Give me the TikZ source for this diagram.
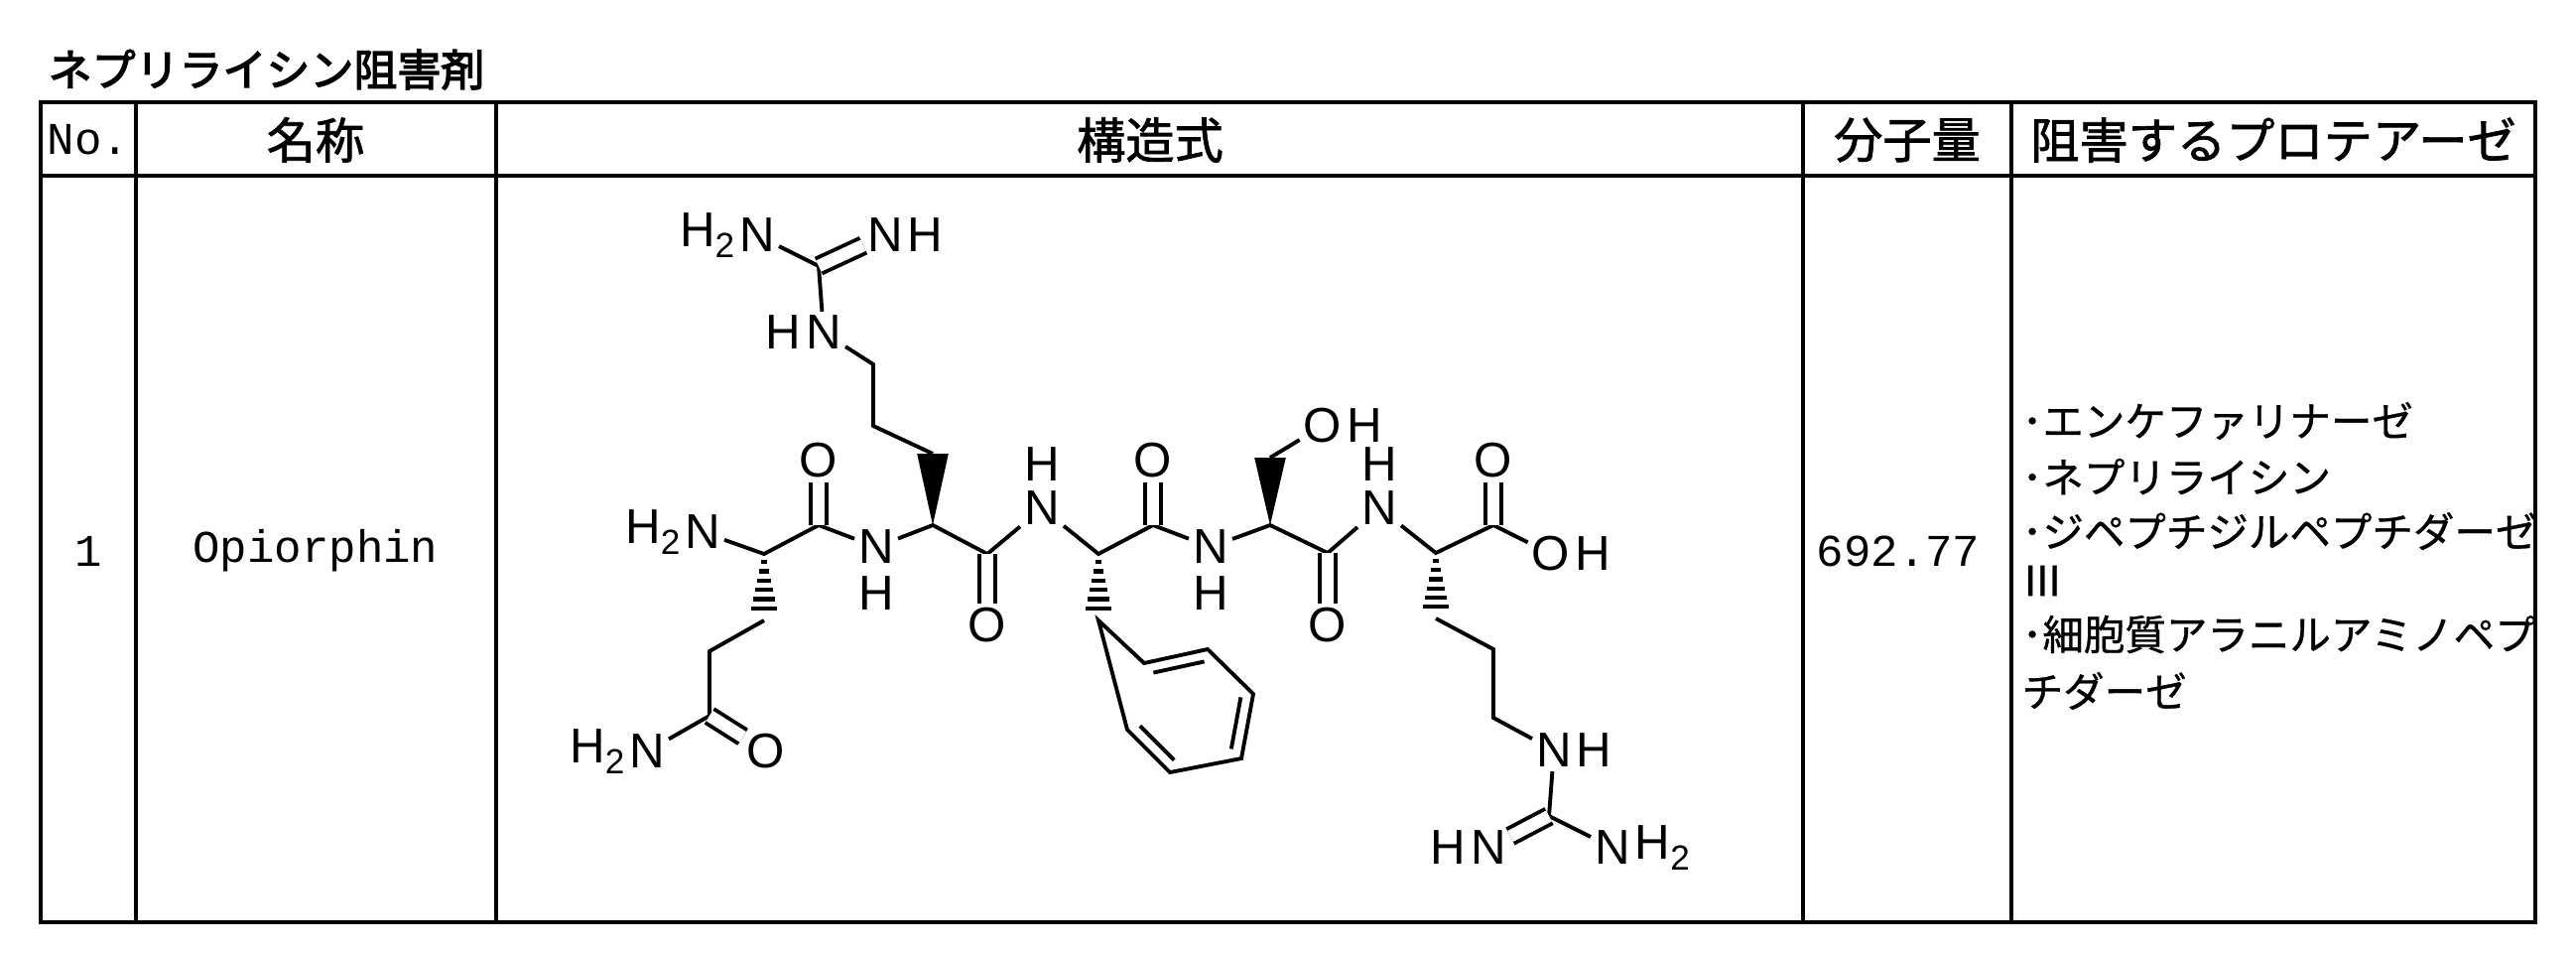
\documentclass[tikz,border=0pt]{standalone}
\usepackage{fontspec}
\setmainfont{Liberation Sans}
\newfontfamily\jp[FakeBold=0.8]{Noto Sans CJK JP}
\newfontfamily\jpb[FakeBold=3]{Noto Sans CJK JP}
\newfontfamily\jph[FakeBold=1.5]{Noto Sans CJK JP}
\newfontfamily\mono{Liberation Mono}
\usetikzlibrary{calc}
\newcommand\wedgebond[2]{\fill (#1) -- ($(#2)!4.5pt!90:(#1)$) -- ($(#2)!4.5pt!-90:(#1)$) -- cycle;}
\newcommand\hashbond[2]{\foreach \t in {0.12,0.26,...,0.95}{\pgfmathsetmacro\w{0.5+\t*4}\path (#1) -- (#2) coordinate[pos=\t] (hh); \draw[line width=1.2pt] ($(hh)!\w pt!90:(#2)$) -- ($(hh)!\w pt!-90:(#2)$);}}
\newcommand\two{\raisebox{-3pt}{\fontsize{10}{10}\selectfont 2}}
\begin{document}
\begin{tikzpicture}[x=0.01cm,y=-0.01cm,
  grid/.style={line width=1.3pt},
  bd/.style={line width=1.1pt},
  dbl/.style={line width=1.1pt,double distance=3.5pt},
  atom/.style={font=\fontsize{14}{14}\selectfont, inner sep=1pt},
  sub/.style={font=\fontsize{14}{14}\selectfont, inner sep=0pt},
  hdr/.style={font=\jph\fontsize{14}{14}\selectfont},
  mtxt/.style={font=\mono\fontsize{13}{13}\selectfont},
  lst/.style={font=\jp\fontsize{11.8}{11.8}\selectfont, anchor=west, inner sep=0pt}]
\useasboundingbox (0,0) rectangle (2596,959);
% title
\node[font=\jpb\fontsize{12.5}{12.5}\selectfont, anchor=west, inner sep=0pt] (title) at (48,70) {ネプリライシン阻害剤};
% table
\draw[grid] (41,103) rectangle (2555,929);
\draw[grid] (41,177) -- (2555,177);
\foreach \x in {137,500,1817,2027} \draw[grid] (\x,103) -- (\x,929);
\node[mtxt] (hno) at (89,141) {No.};
\node[hdr] (hname) at (318,141) {名称};
\node[hdr] (hstr) at (1159,141) {構造式};
\node[hdr] (hmw) at (1922,141) {分子量};
\node[hdr] (hprot) at (2291,141) {阻害するプロテアーゼ};
\node[mtxt] (rno) at (89,555) {1};
\node[mtxt] (rname) at (318,555) {Opiorphin};
\node[mtxt] (rmw) at (1913,555) {692.77};
\node[lst] (l1) at (2037,424) {･エンケファリナーゼ};
\node[lst] (l2) at (2037,480) {･ネプリライシン};
\node[lst] (l3) at (2037,535) {･ジペプチジルペプチダーゼ};
\node[lst] (l4) at (2037,585) {Ⅲ};
\node[lst] (l5) at (2037,639) {･細胞質アラニルアミノペプ};
\node[lst] (l6) at (2037,696) {チダーゼ};
% ---- molecule ----
\node[atom] (N1) at (708,536) {N}; \node[sub,anchor=east] at (N1.west) {H\two};
\coordinate (a1) at (770,558);
\coordinate (c1) at (825,529); \node[atom] (O1) at (825,464) {O};
\node[atom] (N2) at (883,551) {N}; \node[atom] (H2) at (883,598) {H};
\coordinate (a2) at (940,529);
\coordinate (s1) at (940,457); \coordinate (s2) at (880,429); \coordinate (s3) at (880,367);
\node[atom] (N3) at (830,335) {N}; \node[sub,anchor=east] at (N3.west) {H};
\coordinate (g1) at (825,268);
\node[atom] (N3a) at (763,237) {N}; \node[sub,anchor=east] at (N3a.west) {H\two};
\node[atom] (N3b) at (892,237) {N}; \node[sub,anchor=west] at (N3b.east) {H};
\coordinate (b1) at (770,625); \coordinate (b2) at (715,656); \coordinate (b3) at (715,721);
\node[atom] (N1b) at (652,757) {N}; \node[sub,anchor=east] at (N1b.west) {H\two};
\node[atom] (O1b) at (772,757) {O};
\coordinate (c2) at (995,558); \node[atom] (O2) at (995,630) {O};
\node[atom] (N4) at (1050,512) {N}; \node[atom] (H4) at (1050,468) {H};
\coordinate (a3) at (1107,558);
\coordinate (c3) at (1162,529); \node[atom] (O3) at (1162,464) {O};
\coordinate (b4) at (1107,625);
\coordinate (r1) at (1153,668); \coordinate (r2) at (1217,654); \coordinate (r3) at (1263,699);
\coordinate (r4) at (1251,764); \coordinate (r5) at (1179,778); \coordinate (r6) at (1136,735);
\coordinate (rc) at (1200,716);
\node[atom] (N5) at (1220,551) {N}; \node[atom] (H5) at (1220,598) {H};
\coordinate (a4) at (1280,529);
\coordinate (s4) at (1280,461); \node[atom] (O6) at (1333,429) {O}; \node[sub,anchor=west] at (O6.east) {H};
\coordinate (c4) at (1338,557); \node[atom] (O4) at (1338,630) {O};
\node[atom] (N6) at (1390,512) {N}; \node[atom] (H6) at (1390,468) {H};
\coordinate (a5) at (1447,557);
\coordinate (c5) at (1505,529); \node[atom] (O5) at (1505,464) {O};
\node[atom] (O7) at (1563,558) {O}; \node[sub,anchor=west] at (O7.east) {H};
\coordinate (b5) at (1447,623); \coordinate (b6) at (1505,654); \coordinate (b7) at (1505,723);
\node[atom] (N7) at (1566,756) {N}; \node[sub,anchor=west] at (N7.east) {H};
\coordinate (g2) at (1561,822);
\node[atom] (N8) at (1500,854) {N}; \node[sub,anchor=east] at (N8.west) {H};
\node[atom] (N9) at (1625,854) {N}; \node[sub,anchor=west] at (N9.east) {H\two};
% bonds
\draw[bd] (N1) -- (a1) -- (c1) -- (N2);
\draw[dbl] (c1) -- (O1);
\draw[bd] (N2) -- (a2) -- (c2) -- (N4) -- (a3) -- (c3) -- (N5) -- (a4) -- (c4) -- (N6) -- (a5) -- (c5) -- (O7);
\draw[dbl] (c2) -- (O2); \draw[dbl] (c3) -- (O3); \draw[dbl] (c4) -- (O4); \draw[dbl] (c5) -- (O5);
\wedgebond{a2}{s1}
\draw[bd] (s1) -- (s2) -- (s3) -- (N3);
\draw[bd] (N3) -- (g1) -- (N3a); \draw[dbl] (g1) -- (N3b);
\hashbond{a1}{b1}
\draw[bd] (b1) -- (b2) -- (b3) -- (N1b); \draw[dbl] (b3) -- (O1b);
\hashbond{a3}{b4}
\draw[bd] (b4) -- (r1) -- (r2) -- (r3) -- (r4) -- (r5) -- (r6) -- cycle;
\draw[bd] ($(r1)!0.2!(rc)$) -- ($(r2)!0.2!(rc)$);
\draw[bd] ($(r3)!0.2!(rc)$) -- ($(r4)!0.2!(rc)$);
\draw[bd] ($(r5)!0.2!(rc)$) -- ($(r6)!0.2!(rc)$);
\wedgebond{a4}{s4}
\draw[bd] (s4) -- (O6);
\hashbond{a5}{b5}
\draw[bd] (b5) -- (b6) -- (b7) -- (N7) -- (g2) -- (N9); \draw[dbl] (g2) -- (N8);
\end{tikzpicture}
\end{document}
